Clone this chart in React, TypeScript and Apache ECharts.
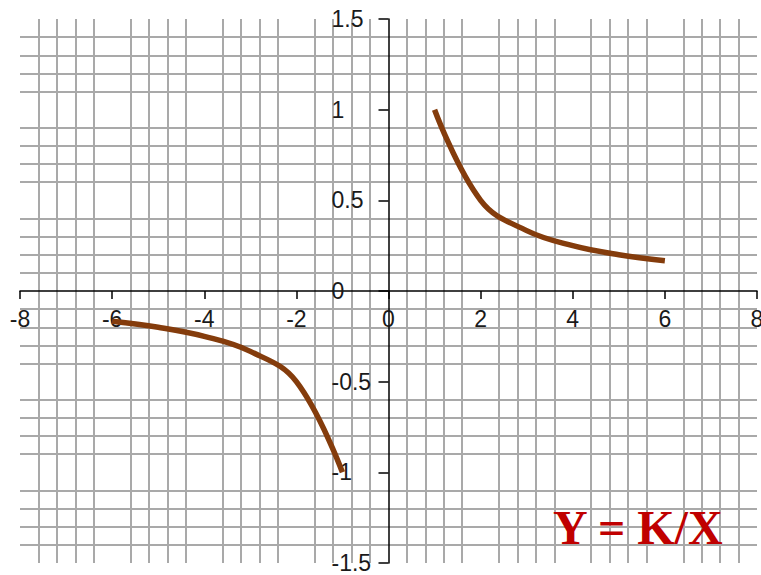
import React, { useEffect, useRef } from "react";
import * as echarts from "echarts";

const xTicks = [-8, -6, -4, -2, 0, 2, 4, 6, 8];
const yTicks = [-1.5, -1, -0.5, 0, 0.5, 1, 1.5];

const rightX = [1, 2, 3, 4, 5, 6];
const rightY = [1, 0.5, 0.333, 0.25, 0.2, 0.167];
const leftX = [-6, -5, -4, -3, -2, -1];
const leftY = [-0.167, -0.2, -0.25, -0.333, -0.5, -1];

const titleText = "Y = K/X";

export default function App() {
  const ref = useRef<HTMLDivElement>(null);
  useEffect(() => {
    document.body.style.margin = "0";
    if (!ref.current) return;
    const chart = echarts.init(ref.current, undefined, { renderer: "svg" });
    const gridColor = "#a9a9a9";
    const W = 761;
    const H = 575;
    const gLeft = 20;
    const gRight = 4;
    const gTop = 19;
    const gBottom = 12;
    const gW = W - gLeft - gRight;
    const gH = H - gTop - gBottom;
    const xMin = xTicks[0];
    const xMax = xTicks[xTicks.length - 1];
    const yMin = yTicks[0];
    const yMax = yTicks[yTicks.length - 1];
    // distance from grid bottom/left edge to the zero line
    const xAxisOffset = -((0 - yMin) / (yMax - yMin)) * gH;
    const yAxisOffset = -((0 - xMin) / (xMax - xMin)) * gW;
    const labelFont = {
      fontSize: 23,
      color: "#1a1a1a",
      fontFamily: "Liberation Sans",
    };
    chart.setOption({
      animation: false,
      backgroundColor: "#ffffff",
      grid: {
        left: gLeft,
        right: gRight,
        top: gTop,
        bottom: gBottom,
        containLabel: false,
        outerBoundsMode: "none",
      },
      xAxis: {
        type: "value",
        min: xMin,
        max: xMax,
        interval: 2,
        position: "bottom",
        offset: xAxisOffset,
        axisLine: { show: true, onZero: false, lineStyle: { color: "#000", width: 1.5 } },
        axisTick: { show: true, length: 8, lineStyle: { color: "#000", width: 1.5 } },
        axisLabel: { ...labelFont, margin: 16, showMinLabel: true, showMaxLabel: true, hideOverlap: false },
        splitLine: { show: false },
        minorTick: { show: false, splitNumber: 5 },
        minorSplitLine: { show: true, lineStyle: { color: gridColor, width: 2 } },
      },
      yAxis: {
        type: "value",
        min: yMin,
        max: yMax,
        interval: 0.5,
        position: "left",
        offset: yAxisOffset,
        axisLine: { show: true, onZero: false, lineStyle: { color: "#000", width: 1.5 } },
        axisTick: { show: true, length: 10, lineStyle: { color: "#000", width: 1.5 } },
        axisLabel: { ...labelFont, margin: 57, align: "left", showMinLabel: true, showMaxLabel: true, hideOverlap: false },
        splitLine: { show: false },
        minorTick: { show: false, splitNumber: 5 },
        minorSplitLine: { show: true, lineStyle: { color: gridColor, width: 2 } },
      },
      series: [
        {
          type: "line",
          data: rightX.map((x, i) => [x, rightY[i]]),
          smooth: 0.4,
          showSymbol: false,
          symbol: "none",
          lineStyle: { color: "#843c0c", width: 5.5 },
          z: 5,
        },
        {
          type: "line",
          data: leftX.map((x, i) => [x, leftY[i]]),
          smooth: 0.4,
          showSymbol: false,
          symbol: "none",
          lineStyle: { color: "#843c0c", width: 5.5 },
          z: 5,
        },
      ],
      graphic: [
        {
          type: "text",
          x: 553,
          y: 527,
          z: 100,
          style: {
            text: titleText,
            font: "bold 48px 'Liberation Serif', 'Times New Roman', serif",
            fill: "#c00000",
            align: "left",
            verticalAlign: "middle",
          },
        },
      ],
    });
    return () => chart.dispose();
  }, []);
  return <div ref={ref} style={{ width: 761, height: 575 }} />;
}
